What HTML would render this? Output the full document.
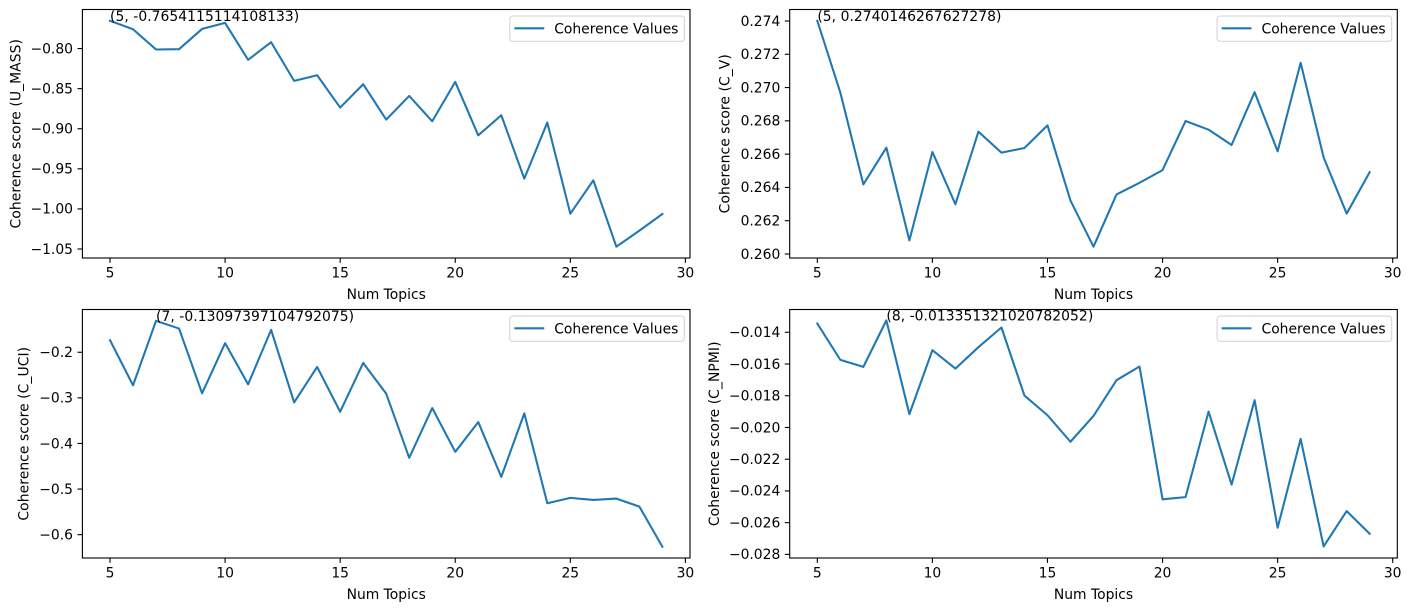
<!DOCTYPE html>
<html>
<head>
<meta charset="utf-8">
<title>Coherence scores by number of topics</title>
<style>
html,body{margin:0;padding:0;background:#fff;width:1411px;height:611px;overflow:hidden}
svg{display:block;filter:blur(0.3px)}
text{font-family:"DejaVu Sans","Liberation Sans",sans-serif;font-size:13.89px;fill:#000}
</style>
</head>
<body>
<svg id="chart" xmlns="http://www.w3.org/2000/svg" width="1411" height="611" viewBox="0 0 1411 611"></svg>
<script>
const numTopics = [5,6,7,8,9,10,11,12,13,14,15,16,17,18,19,20,21,22,23,24,25,26,27,28,29];
const uMassValues = [-0.7654,-0.7759,-0.8012,-0.8008,-0.7755,-0.7680,-0.8141,-0.7921,-0.8403,-0.8333,-0.8736,-0.8445,-0.8886,-0.8591,-0.8907,-0.8416,-0.9082,-0.8832,-0.9622,-0.8923,-1.0059,-0.9643,-1.0471,-1.0271,-1.0063];
const cVValues = [0.27401,0.2697,0.26418,0.26639,0.26082,0.26613,0.26299,0.26735,0.26609,0.26637,0.26773,0.26321,0.26044,0.26358,0.26428,0.26504,0.26799,0.26747,0.26655,0.26972,0.26617,0.27149,0.2658,0.26243,0.26492];
const cUciValues = [-0.1736,-0.2725,-0.1310,-0.148,-0.290,-0.180,-0.2703,-0.1509,-0.310,-0.2322,-0.3304,-0.2234,-0.2908,-0.4315,-0.3223,-0.4183,-0.3531,-0.4733,-0.3341,-0.5311,-0.5194,-0.5238,-0.5209,-0.5385,-0.6264];
const cNpmiValues = [-0.01345,-0.01574,-0.01618,-0.01325,-0.01916,-0.01513,-0.01629,-0.01494,-0.0137,-0.01799,-0.01923,-0.0209,-0.01927,-0.01702,-0.01616,-0.02453,-0.02439,-0.019,-0.0236,-0.01828,-0.02632,-0.02072,-0.0275,-0.02527,-0.0267];
const xTicks = [5,10,15,20,25,30];
const uMassTicks = [-0.80,-0.85,-0.90,-0.95,-1.00,-1.05];
const cVTicks = [0.260,0.262,0.264,0.266,0.268,0.270,0.272,0.274];
const cUciTicks = [-0.2,-0.3,-0.4,-0.5,-0.6];
const cNpmiTicks = [-0.014,-0.016,-0.018,-0.020,-0.022,-0.024,-0.026,-0.028];
const legendLabel = 'Coherence Values';
const xAxisTitle = 'Num Topics';
const uMassAnnotation = '(5, -0.7654115114108133)';
const cVAnnotation = '(5, 0.2740146267627278)';
const cUciAnnotation = '(7, -0.13097397104792075)';
const cNpmiAnnotation = '(8, -0.013351321020782052)';

const NS = 'http://www.w3.org/2000/svg';
const root = document.getElementById('chart');

function make(parent, tag, props, text) {
  const el = document.createElementNS(NS, tag);
  for (const k in props) el.setAttribute(k, props[k]);
  if (text !== undefined) el.textContent = text;
  parent.appendChild(el);
  return el;
}

function drawPanel(p) {
  const g = make(root, 'g', {});
  
  

  const xScale = v => p.left + (v - 3.8) / (30.2 - 3.8) * (p.right - p.left);
  const yScale = v => p.bottom - (v - p.yMin) / (p.yMax - p.yMin) * (p.bottom - p.top);

  const line = make(g, 'polyline', {
    points: numTopics.map((t, i) => xScale(t).toFixed(2) + ',' + yScale(p.values[i]).toFixed(2)).join(' '),
    fill: 'none', stroke: '#1f77b4', 'stroke-width': 2.08, 'stroke-linejoin': 'round', 'stroke-linecap': 'square'
  });
  
  

  const frame = make(g, 'rect', {
    x: p.left, y: p.top, width: p.right - p.left, height: p.bottom - p.top,
    fill: 'none', stroke: '#000', 'stroke-width': 1.11
  });
  
  

  xTicks.forEach(t => {
    const x = xScale(t);
    const mark = make(g, 'line', {x1: x, x2: x, y1: p.bottom, y2: p.bottom + 4.86, stroke: '#000', 'stroke-width': 1.11});
    
    
    const label = make(g, 'text', {x: x, y: p.bottom + 19.5, 'text-anchor': 'middle'}, String(t));
    
    
  });

  p.ticks.forEach(t => {
    const y = yScale(t);
    const mark = make(g, 'line', {x1: p.left - 4.86, x2: p.left, y1: y, y2: y, stroke: '#000', 'stroke-width': 1.11});
    
    
    const label = make(g, 'text', {x: p.left - 9.4, y: y + 4.8, 'text-anchor': 'end'}, t.toFixed(p.decimals).replace('-', '\u2212'));
    
    
  });

  const xTitle = make(g, 'text', {x: (p.left + p.right) / 2, y: p.bottom + 41, 'text-anchor': 'middle'}, xAxisTitle);
  
  

  const yMid = (p.top + p.bottom) / 2;
  const yTitle = make(g, 'text', {x: 0, y: 0, 'text-anchor': 'middle', 'letter-spacing': '0.08', transform: 'translate(' + p.yTitleX + ',' + yMid + ') rotate(-90)'}, p.yTitle);
  
  

  const note = make(g, 'text', {x: xScale(p.peakX), y: yScale(p.peakY), 'text-anchor': 'start', 'letter-spacing': '0.05'}, p.annotation);
  
  

  const lg = make(g, 'g', {});
  
  
  const lx = p.right - 5.6 - 174.6, ly = p.top + 6.6;
  const box = make(lg, 'rect', {x: lx, y: ly, width: 174.6, height: 25.2, rx: 2.8, ry: 2.8, fill: 'rgba(255,255,255,0.8)', stroke: 'rgba(204,204,204,0.8)', 'stroke-width': 1.11});
  
  
  const key = make(lg, 'line', {x1: lx + 5.6, x2: lx + 33.4, y1: ly + 12.2, y2: ly + 12.2, stroke: '#1f77b4', 'stroke-width': 2.08, 'stroke-linecap': 'square'});
  
  
  const keyText = make(lg, 'text', {x: lx + 44.4, y: ly + 17.2}, legendLabel);
  
  
}

drawPanel({id:'u-mass', left:82.4, right:690, top:9.5, bottom:258, yMin:-1.0612, yMax:-0.7513, values:uMassValues, ticks:uMassTicks, decimals:2, yTitle:'Coherence score (U_MASS)', yTitleX:20.6, annotation:uMassAnnotation, peakX:5, peakY:-0.7654});
drawPanel({id:'c-v', left:789.7, right:1397.3, top:9.5, bottom:258, yMin:0.25976, yMax:0.27469, values:cVValues, ticks:cVTicks, decimals:3, yTitle:'Coherence score (C_V)', yTitleX:729.6, annotation:cVAnnotation, peakX:5, peakY:0.27401});
drawPanel({id:'c-uci', left:82.4, right:690, top:309.5, bottom:558, yMin:-0.6512, yMax:-0.1062, values:cUciValues, ticks:cUciTicks, decimals:1, yTitle:'Coherence score (C_UCI)', yTitleX:28.6, annotation:cUciAnnotation, peakX:7, peakY:-0.1310});
drawPanel({id:'c-npmi', left:789.7, right:1397.3, top:309.5, bottom:558, yMin:-0.028227, yMax:-0.012565, values:cNpmiValues, ticks:cNpmiTicks, decimals:3, yTitle:'Coherence score (C_NPMI)', yTitleX:719.1, annotation:cNpmiAnnotation, peakX:8, peakY:-0.01325});
</script>
</body>
</html>
